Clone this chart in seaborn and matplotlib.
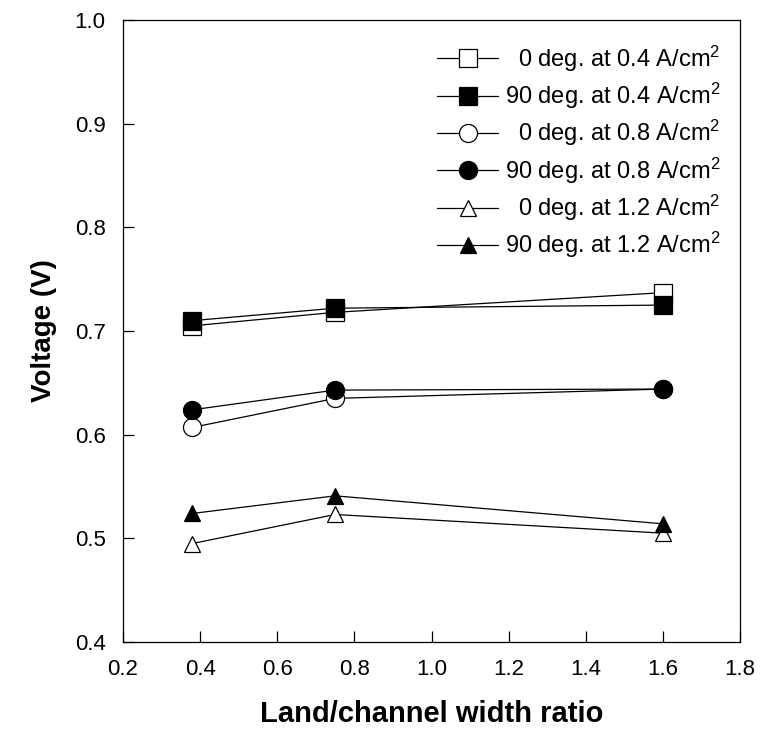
import matplotlib
matplotlib.use("Agg")
import matplotlib.pyplot as plt
import seaborn as sns
import numpy as np

# ---- data ----
ratio = [0.38, 0.75, 1.6]
v_0deg_04 = [0.705, 0.718, 0.737]
v_90deg_04 = [0.710, 0.722, 0.725]
v_0deg_08 = [0.607, 0.635, 0.644]
v_90deg_08 = [0.624, 0.643, 0.644]
v_0deg_12 = [0.495, 0.523, 0.505]
v_90deg_12 = [0.524, 0.541, 0.514]

labels = [
    r"0 deg. at 0.4 A/cm$^2$",
    r"90 deg. at 0.4 A/cm$^2$",
    r"0 deg. at 0.8 A/cm$^2$",
    r"90 deg. at 0.8 A/cm$^2$",
    r"0 deg. at 1.2 A/cm$^2$",
    r"90 deg. at 1.2 A/cm$^2$",
]
series = [v_0deg_04, v_90deg_04, v_0deg_08, v_90deg_08, v_0deg_12, v_90deg_12]
markers = ["s", "s", "o", "o", "^", "^"]
filled = [False, True, False, True, False, True]
msizes = [13, 13, 13, 13, 11.5, 11.5]

x_ticks = [0.2, 0.4, 0.6, 0.8, 1.0, 1.2, 1.4, 1.6, 1.8]
y_ticks = [0.4, 0.5, 0.6, 0.7, 0.8, 0.9, 1.0]

sns.set_style("ticks")
plt.rcParams["font.family"] = ["Liberation Sans", "DejaVu Sans"]
plt.rcParams["mathtext.fontset"] = "custom"
plt.rcParams["mathtext.rm"] = "Liberation Sans"
plt.rcParams["mathtext.it"] = "Liberation Sans:italic"
plt.rcParams["mathtext.bf"] = "Liberation Sans:bold"
for k in ["text.color", "axes.labelcolor", "xtick.color", "ytick.color", "axes.edgecolor"]:
    plt.rcParams[k] = "black"

fig = plt.figure(figsize=(7.75, 7.46), dpi=100)
ax = fig.add_axes([123 / 775, 1 - 642 / 746, (740 - 123) / 775, (642 - 20) / 746])

for ys, lab, m, f, ms in zip(series, labels, markers, filled, msizes):
    sns.lineplot(
        x=ratio, y=ys, ax=ax, color="black", linewidth=0.9, label=lab,
        marker=m, markersize=ms, markeredgecolor="black",
        markerfacecolor=("black" if f else "white"), markeredgewidth=0.9,
        sort=False,
    )

ax.set_xlim(0.2, 1.8)
ax.set_ylim(0.4, 1.0)
ax.set_xticks(x_ticks)
ax.set_yticks(y_ticks)
ax.set_xticklabels([f"{t:.1f}" for t in x_ticks])
ax.set_yticklabels([f"{t:.1f}" for t in y_ticks])
ax.tick_params(direction="in", length=8, width=0.9, labelsize=16, pad=12.5,
               colors="black", top=False, right=False)
for s in ax.spines.values():
    s.set_linewidth(0.9)
    s.set_color("black")
    s.set_visible(True)

ax.set_xlabel("Land/channel width ratio", fontsize=21, fontweight="bold", labelpad=14)
ax.set_ylabel("Voltage (V)", fontsize=20, fontweight="bold", labelpad=13)

leg = ax.legend(loc="upper right", bbox_to_anchor=(0.968, 0.962), frameon=False,
                fontsize=17, handlelength=2.6, handletextpad=0.27,
                labelspacing=0.3, borderaxespad=0, borderpad=0)

# right-align the legend texts (handles stay aligned on the left)
fig.canvas.draw()
renderer = fig.canvas.get_renderer()
texts = leg.get_texts()
widths = [t.get_window_extent(renderer).width for t in texts]
maxw = max(widths)
pt_per_px = 72.0 / fig.dpi
rows = []
for col in leg._legend_handle_box.get_children():
    rows.extend(col.get_children())
for row, w in zip(rows, widths):
    row.sep = row.sep + (maxw - w) * pt_per_px

fig.savefig("out.png", dpi=100)
